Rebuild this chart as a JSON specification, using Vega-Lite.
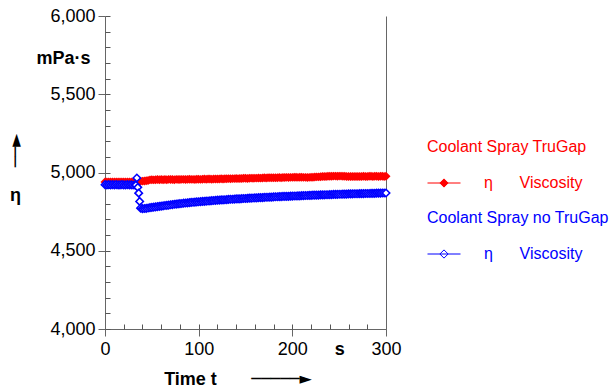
{
  "$schema": "https://vega.github.io/schema/vega-lite/v6.json",
  "width": 281,
  "height": 313,
  "autosize": {"type": "none"},
  "padding": {"left": 105, "top": 16, "right": 225, "bottom": 61},
  "background": "white",
  "config": {
    "view": {"stroke": null},
    "font": "Liberation Sans",
    "axis": {"grid": false, "domainColor": "#666666", "tickColor": "#666666", "labelColor": "#000000", "titleColor": "#000000", "labelFont": "Liberation Sans", "titleFont": "Liberation Sans", "domainWidth": 1, "tickWidth": 1}
  },
  "datasets": {
    "red": [
      {"t":0,"v":4940},{"t":2,"v":4940},{"t":4,"v":4939},{"t":6,"v":4940},{"t":8,"v":4940},{"t":10,"v":4939},{"t":12,"v":4940},{"t":14,"v":4940},{"t":16,"v":4939},{"t":18,"v":4940},{"t":20,"v":4940},{"t":22,"v":4939},{"t":24,"v":4940},{"t":26,"v":4940},{"t":28,"v":4939},{"t":30,"v":4940},{"t":32,"v":4941},{"t":34,"v":4942},{"t":36,"v":4943},{"t":38,"v":4944},{"t":40,"v":4945},{"t":42,"v":4946},{"t":44,"v":4947},{"t":46,"v":4949},{"t":48,"v":4953},{"t":50,"v":4954},{"t":52,"v":4953},{"t":54,"v":4954},{"t":56,"v":4955},{"t":58,"v":4954},{"t":60,"v":4955},{"t":62,"v":4954},{"t":64,"v":4955},{"t":66,"v":4954},{"t":68,"v":4956},{"t":70,"v":4955},{"t":72,"v":4955},{"t":74,"v":4954},{"t":76,"v":4956},{"t":78,"v":4955},{"t":80,"v":4955},{"t":82,"v":4956},{"t":84,"v":4956},{"t":86,"v":4955},{"t":88,"v":4956},{"t":90,"v":4957},{"t":92,"v":4956},{"t":94,"v":4956},{"t":96,"v":4955},{"t":98,"v":4957},{"t":100,"v":4957},{"t":102,"v":4956},{"t":104,"v":4957},{"t":106,"v":4958},{"t":108,"v":4957},{"t":110,"v":4958},{"t":112,"v":4958},{"t":114,"v":4957},{"t":116,"v":4959},{"t":118,"v":4958},{"t":120,"v":4958},{"t":122,"v":4959},{"t":124,"v":4960},{"t":126,"v":4959},{"t":128,"v":4960},{"t":130,"v":4960},{"t":132,"v":4961},{"t":134,"v":4960},{"t":136,"v":4961},{"t":138,"v":4961},{"t":140,"v":4962},{"t":142,"v":4961},{"t":144,"v":4962},{"t":146,"v":4962},{"t":148,"v":4963},{"t":150,"v":4963},{"t":152,"v":4962},{"t":154,"v":4963},{"t":156,"v":4964},{"t":158,"v":4963},{"t":160,"v":4964},{"t":162,"v":4964},{"t":164,"v":4965},{"t":166,"v":4964},{"t":168,"v":4965},{"t":170,"v":4966},{"t":172,"v":4965},{"t":174,"v":4966},{"t":176,"v":4966},{"t":178,"v":4967},{"t":180,"v":4967},{"t":182,"v":4966},{"t":184,"v":4967},{"t":186,"v":4968},{"t":188,"v":4967},{"t":190,"v":4968},{"t":192,"v":4968},{"t":194,"v":4969},{"t":196,"v":4968},{"t":198,"v":4969},{"t":200,"v":4969},{"t":202,"v":4970},{"t":204,"v":4970},{"t":206,"v":4969},{"t":208,"v":4970},{"t":210,"v":4970},{"t":212,"v":4969},{"t":214,"v":4969},{"t":216,"v":4968},{"t":218,"v":4969},{"t":220,"v":4970},{"t":222,"v":4970},{"t":224,"v":4971},{"t":226,"v":4972},{"t":228,"v":4972},{"t":230,"v":4973},{"t":232,"v":4974},{"t":234,"v":4974},{"t":236,"v":4975},{"t":238,"v":4976},{"t":240,"v":4976},{"t":242,"v":4976},{"t":244,"v":4977},{"t":246,"v":4977},{"t":248,"v":4976},{"t":250,"v":4977},{"t":252,"v":4977},{"t":254,"v":4976},{"t":256,"v":4976},{"t":258,"v":4975},{"t":260,"v":4975},{"t":262,"v":4975},{"t":264,"v":4974},{"t":266,"v":4975},{"t":268,"v":4975},{"t":270,"v":4974},{"t":272,"v":4975},{"t":274,"v":4975},{"t":276,"v":4976},{"t":278,"v":4975},{"t":280,"v":4975},{"t":282,"v":4976},{"t":284,"v":4976},{"t":286,"v":4975},{"t":288,"v":4976},{"t":290,"v":4976},{"t":292,"v":4975},{"t":294,"v":4976},{"t":296,"v":4976},{"t":298,"v":4975},{"t":300,"v":4976}
    ],
    "blue": [
      {"t":0,"v":4922},{"t":2,"v":4921},{"t":4,"v":4922},{"t":6,"v":4921},{"t":8,"v":4922},{"t":10,"v":4921},{"t":12,"v":4922},{"t":14,"v":4921},{"t":16,"v":4921},{"t":18,"v":4922},{"t":20,"v":4921},{"t":22,"v":4921},{"t":24,"v":4922},{"t":26,"v":4921},{"t":28,"v":4921},{"t":30,"v":4920},{"t":32,"v":4920},{"t":33,"v":4920},{"t":34,"v":4965},{"t":35,"v":4905},{"t":36,"v":4868},{"t":37,"v":4815},{"t":38,"v":4772},{"t":40,"v":4769},{"t":42,"v":4770},{"t":44,"v":4771},{"t":46,"v":4773},{"t":48,"v":4775},{"t":50,"v":4777},{"t":52,"v":4779},{"t":54,"v":4780},{"t":56,"v":4782},{"t":58,"v":4784},{"t":60,"v":4785},{"t":62,"v":4787},{"t":64,"v":4789},{"t":66,"v":4790},{"t":68,"v":4792},{"t":70,"v":4794},{"t":72,"v":4795},{"t":74,"v":4797},{"t":76,"v":4798},{"t":78,"v":4800},{"t":80,"v":4801},{"t":82,"v":4802},{"t":84,"v":4804},{"t":86,"v":4805},{"t":88,"v":4806},{"t":90,"v":4807},{"t":92,"v":4809},{"t":94,"v":4810},{"t":96,"v":4811},{"t":98,"v":4812},{"t":100,"v":4813},{"t":102,"v":4814},{"t":104,"v":4815},{"t":106,"v":4816},{"t":108,"v":4817},{"t":110,"v":4818},{"t":112,"v":4819},{"t":114,"v":4820},{"t":116,"v":4821},{"t":118,"v":4822},{"t":120,"v":4823},{"t":122,"v":4824},{"t":124,"v":4825},{"t":126,"v":4825},{"t":128,"v":4826},{"t":130,"v":4827},{"t":132,"v":4828},{"t":134,"v":4829},{"t":136,"v":4829},{"t":138,"v":4830},{"t":140,"v":4831},{"t":142,"v":4832},{"t":144,"v":4832},{"t":146,"v":4833},{"t":148,"v":4834},{"t":150,"v":4834},{"t":152,"v":4835},{"t":154,"v":4836},{"t":156,"v":4836},{"t":158,"v":4837},{"t":160,"v":4838},{"t":162,"v":4838},{"t":164,"v":4839},{"t":166,"v":4840},{"t":168,"v":4840},{"t":170,"v":4841},{"t":172,"v":4842},{"t":174,"v":4842},{"t":176,"v":4843},{"t":178,"v":4843},{"t":180,"v":4844},{"t":182,"v":4845},{"t":184,"v":4845},{"t":186,"v":4846},{"t":188,"v":4846},{"t":190,"v":4847},{"t":192,"v":4847},{"t":194,"v":4848},{"t":196,"v":4848},{"t":198,"v":4849},{"t":200,"v":4849},{"t":202,"v":4850},{"t":204,"v":4850},{"t":206,"v":4851},{"t":208,"v":4851},{"t":210,"v":4852},{"t":212,"v":4852},{"t":214,"v":4853},{"t":216,"v":4853},{"t":218,"v":4854},{"t":220,"v":4854},{"t":222,"v":4855},{"t":224,"v":4855},{"t":226,"v":4856},{"t":228,"v":4856},{"t":230,"v":4857},{"t":232,"v":4857},{"t":234,"v":4857},{"t":236,"v":4858},{"t":238,"v":4858},{"t":240,"v":4859},{"t":242,"v":4859},{"t":244,"v":4860},{"t":246,"v":4860},{"t":248,"v":4860},{"t":250,"v":4861},{"t":252,"v":4861},{"t":254,"v":4862},{"t":256,"v":4862},{"t":258,"v":4862},{"t":260,"v":4863},{"t":262,"v":4863},{"t":264,"v":4863},{"t":266,"v":4864},{"t":268,"v":4864},{"t":270,"v":4864},{"t":272,"v":4865},{"t":274,"v":4865},{"t":276,"v":4865},{"t":278,"v":4866},{"t":280,"v":4866},{"t":282,"v":4866},{"t":284,"v":4867},{"t":286,"v":4867},{"t":288,"v":4867},{"t":290,"v":4868},{"t":292,"v":4868},{"t":294,"v":4868},{"t":296,"v":4869},{"t":298,"v":4869},{"t":300,"v":4869}
    ]
  },
  "layer": [
    {
      "data": {"name": "red"},
      "mark": {"type": "line", "strokeWidth": 1, "clip": false},
      "encoding": {
        "x": {"field": "t", "type": "quantitative", "scale": {"domain": [0, 300], "nice": false, "zero": false},
          "axis": {"orient": "bottom", "values": [0, 100, 200, 250, 300], "labelExpr": "datum.value === 250 ? 's' : datum.label",
            "labelFontWeight": {"condition": {"test": "datum.value === 250", "value": "bold"}, "value": "normal"},
            "tickOpacity": {"condition": {"test": "datum.value === 250", "value": 0}, "value": 1},
            "tickSize": 7, "labelPadding": 4, "labelFontSize": 18, "labelFlush": false, "labelOverlap": false,
            "title": "Time t", "titleFontWeight": "bold", "titleFontSize": 18, "titleX": 85, "titleY": 55, "titleBaseline": "alphabetic", "titleAlign": "center"}},
        "y": {"field": "v", "type": "quantitative", "scale": {"domain": [4000, 6000], "nice": false, "zero": false},
          "axis": {"orient": "left", "values": [4000, 4500, 5000, 5500, 6000], "format": ",.0f", "tickSize": 7, "labelPadding": 3, "labelFontSize": 18, "labelFlush": false, "labelOverlap": false,
            "title": "mPa·s", "titleAngle": 0, "titleX": -42, "titleY": 42, "titleAlign": "center", "titleBaseline": "middle", "titleFontWeight": "bold", "titleFontSize": 18}},
        "color": {"datum": "Coolant Spray TruGap", "scale": {"range": ["#ff0000"]},
          "legend": {"orient": "none", "legendX": 322, "legendY": 123, "padding": 0,
            "title": "Coolant Spray TruGap", "titleColor": "#ff0000", "titleFont": "Liberation Sans", "titleFontSize": 16, "titleFontWeight": "normal", "titleLimit": 400, "titlePadding": 11, "titleBaseline": "top",
            "labelExpr": "'η\u00a0\u00a0\u00a0\u00a0\u00a0\u00a0Viscosity'", "labelColor": "#ff0000", "labelFont": "Liberation Sans", "labelFontSize": 16, "labelOffset": 23, "labelLimit": 400,
            "symbolType": "M-1,0H1M-0.25,0L0,-0.25L0.25,0L0,0.25Z", "symbolSize": 1089, "symbolStrokeWidth": 1, "symbolFillColor": "#ff0000", "symbolStrokeColor": "#ff0000"}}
      }
    },
    {
      "data": {"name": "red"},
      "mark": {"type": "point", "shape": "diamond", "filled": true, "color": "#ff0000", "size": 80, "opacity": 1, "clip": false},
      "encoding": {
        "x": {"field": "t", "type": "quantitative",
          "axis": {"orient": "top", "offset": -313, "values": [0,20,40,60,80,100,120,140,160,180,200,220,240,260,280,300], "ticks": true, "tickSize": 5, "tickColor": "#555555", "labels": false, "domain": false, "title": null}},
        "y": {"field": "v", "type": "quantitative",
          "axis": {"orient": "right", "offset": -281, "values": [4000,4100,4200,4300,4400,4500,4600,4700,4800,4900,5000,5100,5200,5300,5400,5500,5600,5700,5800,5900,6000], "ticks": true, "tickSize": 5, "tickColor": "#555555", "labels": false, "domain": false,
            "title": "η", "titleAngle": 0, "titleFontWeight": "bold", "titleFontSize": 18, "titleX": -90, "titleY": 179, "titleAlign": "center", "titleBaseline": "middle"}}
      }
    },
    {
      "data": {"name": "blue"},
      "mark": {"type": "line", "strokeWidth": 1, "clip": false, "point": {"shape": "diamond", "filled": false, "fill": "#ffffff", "size": 55, "strokeWidth": 1.6, "opacity": 1}},
      "encoding": {
        "x": {"field": "t", "type": "quantitative",
          "axis": {"orient": "bottom", "ticks": false, "labels": false, "domain": false,
            "title": "─────►", "titleFont": "DejaVu Sans", "titleFontSize": 16, "titleFontWeight": "normal", "titleX": 176, "titleY": 49, "titleBaseline": "middle", "titleAlign": "center"}},
        "y": {"field": "v", "type": "quantitative",
          "axis": {"orient": "right", "offset": 0, "ticks": false, "labels": false, "domain": true,
            "title": "──►", "titleAngle": -90, "titleFont": "DejaVu Sans", "titleFontSize": 17, "titleFontWeight": "normal", "titleX": -371, "titleY": 134, "titleAlign": "center", "titleBaseline": "middle"}},
        "color": {"datum": "Coolant Spray no TruGap", "scale": {"range": ["#0000ff"]},
          "legend": {"orient": "none", "legendX": 322, "legendY": 194, "padding": 0,
            "title": "Coolant Spray no TruGap", "titleColor": "#0000ff", "titleFont": "Liberation Sans", "titleFontSize": 16, "titleFontWeight": "normal", "titleLimit": 400, "titlePadding": 11, "titleBaseline": "top",
            "labelExpr": "'η\u00a0\u00a0\u00a0\u00a0\u00a0\u00a0Viscosity'", "labelColor": "#0000ff", "labelFont": "Liberation Sans", "labelFontSize": 16, "labelOffset": 23, "labelLimit": 400,
            "symbolType": "M-1,0H1M-0.25,0L0,-0.25L0.25,0L0,0.25Z", "symbolSize": 1089, "symbolStrokeWidth": 1, "symbolFillColor": "#ffffff", "symbolStrokeColor": "#0000ff"}}
      }
    }
  ],
  "resolve": {
    "scale": {"color": "independent"},
    "axis": {"x": "independent", "y": "independent"},
    "legend": {"color": "independent"}
  }
}
